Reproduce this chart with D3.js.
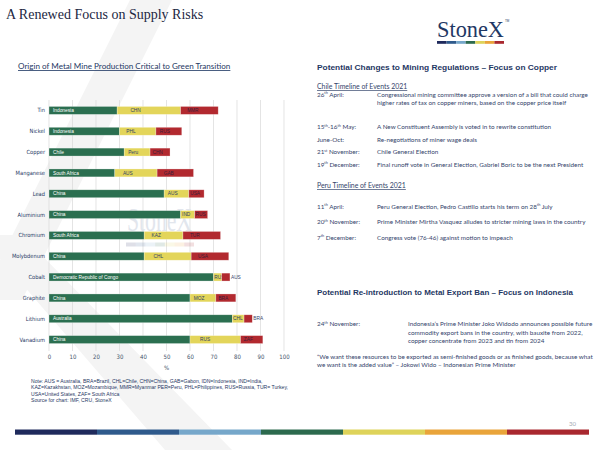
<!DOCTYPE html>
<html>
<head>
<meta charset="utf-8">
<script src="https://cdn.jsdelivr.net/npm/d3@7"></script>
<style>
  body { margin: 0; background: #fff; }
  text { font-family: "Liberation Sans", Arial, sans-serif; }
  text.cal { font-family: Lato, "Open Sans", sans-serif; }
  text.narrow { font-family: "Liberation Sans Narrow", "DejaVu Sans Condensed", sans-serif; }
  text.serif { font-family: "Liberation Serif", "DejaVu Serif", "Times New Roman", serif; }
</style>
</head>
<body>
<div class="canvas"></div>
<script>
/**
 * Data
 */
const metals = ["Tin", "Nickel", "Copper", "Manganese", "Lead", "Aluminium", "Chromium",
    "Molybdenum", "Cobalt", "Graphite", "Lithium", "Vanadium"]
const firstCountry = ["Indonesia", "Indonesia", "Chile", "South Africa", "China", "China",
    "South Africa", "China", "Democratic Republic of Congo", "China", "Australia", "China"]
const firstShare = [29, 30, 32, 28, 49, 56, 40.5, 40.5, 70, 60, 78, 60]
const secondCountry = ["CHN", "PHL", "Peru", "AUS", "AUS", "IND", "KAZ", "CHL", "RUS", "MOZ", "CHL", "RUS"]
const secondShare = [27, 15.5, 11, 18, 10.5, 6, 16.5, 20, 3.5, 11, 5, 21.5]
const thirdCountry = ["MMR", "RUS", "CHN", "GAB", "USA", "RUS", "TUR", "USA", "AUS", "BRA", "BRA", "ZAF"]
const thirdShare = [16, 11, 8.5, 15.5, 6.5, 5.5, 16, 16, 3.5, 8.5, 3.5, 9.5]
const xTicks = [0, 10, 20, 30, 40, 50, 60, 70, 80, 90, 100]

const segColors = ["#2b6f50", "#e3d55a", "#b2292f"]
const segText = ["#ffffff", "#2f3f66", "#3a1f3a"]
const stripeColors = ["#1f2a5c", "#2f5a8c", "#76a7ca", "#2c6a4e", "#ded35a", "#e9a43a", "#a9282f"]

const chileDates = [["26", "th", " April:"], ["15", "th", "-16", "th", " May:"], ["June-Oct:"],
    ["21", "st", " November:"], ["19", "th", " December:"]]
const chileEvents = [
    ["Congressional mining committee approve a version of a bill that could charge",
     "higher rates of tax on copper miners, based on the copper price itself"],
    ["A New Constituent Assembly is voted  in to rewrite constitution"],
    ["Re-negotiations of miner wage deals"],
    ["Chile General Election"],
    ["Final runoff vote  in General Election, Gabriel Boric to be the  next President"]]
const peruDates = [["11", "th", " April:"], ["20", "th", " November:"], ["7", "th", " December:"]]
const peruEvents = [
    ["Peru General Election, Pedro Castillo starts his term on 28", "th", " July"],
    "Prime Minister Mirtha Vasquez alludes to stricter mining laws in the country",
    "Congress vote  (76-46) against motion to impeach"]
const indoLines = ["Indonesia\u2019s Prime Minister Joko Widodo announces possible future",
    "commodity export bans in the country, with bauxite from 2022,",
    "copper concentrate from 2023 and tin from 2024"]
const quoteLines = ["\u201CWe want these resources to be exported  as semi-finished goods or as finished goods, because what",
    "we want  is the added value\u201D \u2013 Jokowi Wido \u2013 Indonesian Prime Minister"]
const noteLines = ["Note: AUS = Australia, BRA=Brazil, CHL=Chile, CHN=China, GAB=Gabon, IDN=Indonesia, IND=India,",
    "KAZ=Kazakhstan, MOZ=Mozambique, MMR=Myanmar PER=Peru, PHL=Philippines, RUS=Russia, TUR= Turkey,",
    "USA=United States, ZAF= South Africa",
    "Source for chart: IMF, CRU, StoneX"]

const navy = "#1f3864"
const bodyText = "#34446b"

const svg = d3.select(".canvas")
    .append("svg")
    .attr("width", 600)
    .attr("height", 450)

svg.append("rect").attr("width", 600).attr("height", 450).attr("fill", "#fff")

// faint chevron watermark behind everything
svg.append("polygon")
    .attr("points", "130,0 172,0 22,300 -20,300")
    .attr("fill", "#f4f4f4")
svg.append("polygon")
    .attr("points", "-20,235 22,235 232,450 165,450")
    .attr("fill", "#f4f4f4")

/**
 * Header
 */
svg.append("text")
    .attr("class", "serif")
    .attr("x", 6).attr("y", 19)
    .attr("font-size", 14)
    .attr("fill", "#1c2742")
    .text("A Renewed Focus on Supply Risks")

svg.append("text")
    .attr("class", "serif")
    .attr("x", 437).attr("y", 36.5)
    .attr("font-size", 23)
    .attr("textLength", 67)
    .attr("lengthAdjust", "spacingAndGlyphs")
    .attr("fill", navy)
    .text("StoneX")
svg.append("text")
    .attr("x", 505).attr("y", 22)
    .attr("font-size", 3)
    .attr("fill", navy)
    .text("TM")

const logoX = d3.scaleBand().domain(d3.range(7)).range([437, 504])
svg.selectAll(".logo-seg")
    .data(stripeColors)
    .enter()
    .append("rect")
    .attr("class", "logo-seg")
    .attr("x", (d, i) => logoX(i))
    .attr("y", 41)
    .attr("width", logoX.bandwidth())
    .attr("height", 2.8)
    .attr("fill", d => d)

/**
 * Chart
 */
svg.append("text")
    .attr("class", "cal")
    .attr("x", 18).attr("y", 69)
    .attr("font-size", 8.1)
    .attr("fill", navy)
    .attr("text-decoration", "underline")
    .text("Origin of Metal Mine Production Critical to Green Transition")

const rows = metals.map((m, i) => ({
    metal: m,
    segs: [
        { name: firstCountry[i], v: firstShare[i] },
        { name: secondCountry[i], v: secondShare[i] },
        { name: thirdCountry[i], v: thirdShare[i] }
    ]
}))
rows.forEach(r => {
    let acc = 0
    r.segs.forEach((s, k) => { s.x0 = acc; acc += s.v; s.x1 = acc; s.k = k })
})

const x = d3.scaleLinear().domain([0, 100]).range([49, 284])
const y = d3.scaleBand().domain(metals).range([100, 350]).paddingInner(0.62).paddingOuter(0.31)

const graph = svg.append("g")

// gridlines
graph.selectAll(".grid")
    .data(xTicks)
    .enter()
    .append("line")
    .attr("class", "grid")
    .attr("x1", d => x(d)).attr("x2", d => x(d))
    .attr("y1", 100).attr("y2", 351)
    .attr("stroke", "#d9d9d9")
    .attr("stroke-width", 0.7)

// faint logo watermark inside the plot, sitting behind the bars
graph.append("text")
    .attr("class", "serif")
    .attr("x", 127).attr("y", 231)
    .attr("font-size", 34)
    .attr("textLength", 65)
    .attr("lengthAdjust", "spacingAndGlyphs")
    .attr("fill", "#e2e6ed")
    .text("StoneX")
const wmX = d3.scaleBand().domain(d3.range(7)).range([126, 194])
graph.selectAll(".wm-seg")
    .data(stripeColors)
    .enter()
    .append("rect")
    .attr("class", "wm-seg")
    .attr("x", (d, i) => wmX(i))
    .attr("y", 242.5)
    .attr("width", wmX.bandwidth())
    .attr("height", 4)
    .attr("fill", d => d)
    .attr("opacity", 0.15)

// axis
const xAxis = d3.axisBottom(x).tickValues(xTicks).tickSize(0).tickPadding(0)
graph.append("g")
    .attr("transform", "translate(0, 355)")
    .call(xAxis)
    .call(g => g.select(".domain").remove())
    .selectAll("text")
        .attr("class", "narrow")
        .attr("font-size", 6)
        .attr("fill", "#44546a")

graph.append("text")
    .attr("class", "narrow")
    .attr("x", x(50)).attr("y", 370)
    .attr("text-anchor", "middle")
    .attr("font-size", 6)
    .attr("fill", "#44546a")
    .text("%")

// category labels
graph.selectAll(".cat")
    .data(metals)
    .enter()
    .append("text")
    .attr("class", "narrow")
    .attr("x", 45)
    .attr("y", d => y(d) + y.bandwidth() / 2)
    .attr("dy", "0.35em")
    .attr("text-anchor", "end")
    .attr("font-size", 5.7)
    .attr("fill", navy)
    .text(d => d)

// bars
const rowG = graph.selectAll(".row")
    .data(rows)
    .enter()
    .append("g")
    .attr("class", "row")
    .attr("transform", d => `translate(0, ${y(d.metal)})`)

const segG = rowG.selectAll(".seg")
    .data(d => d.segs)
    .enter()
    .append("g")
    .attr("class", "seg")

segG.append("rect")
    .attr("x", d => x(d.x0))
    .attr("width", d => x(d.x1) - x(d.x0))
    .attr("height", y.bandwidth())
    .attr("fill", d => segColors[d.k])
    .attr("stroke", "#ffffff")
    .attr("stroke-opacity", 0.45)
    .attr("stroke-width", 0.6)

segG.append("text")
    .attr("y", y.bandwidth() / 2)
    .attr("dy", "0.36em")
    .attr("font-size", 4.8)
    .text(d => d.name)
    .each(function (d) {
        const t = d3.select(this)
        const tw = this.getComputedTextLength()
        const w = x(d.x1) - x(d.x0)
        let px, fill
        if (d.k === 0) {
            px = x(d.x0) + 4; fill = segText[0]
        } else if (d.k === 2 && tw > w - 1) {
            // too narrow: place after the bar
            px = x(d.x1) + 1; fill = bodyText
        } else {
            px = x(d.x0) + Math.max(0.8, (w - tw) / 4); fill = segText[d.k]
        }
        t.attr("x", px).attr("fill", fill)
    })

// footnote
svg.selectAll(".note")
    .data(noteLines)
    .enter()
    .append("text")
    .attr("class", "note")
    .attr("x", 31)
    .attr("y", (d, i) => 383 + i * 6.3)
    .attr("font-size", 5.1)
    .attr("fill", navy)
    .text(d => d)

/**
 * Right column
 */
const heading = (txt, yy, size, len) => svg.append("text")
    .attr("x", 317).attr("y", yy)
    .attr("font-weight", "bold")
    .attr("font-size", size)
    .attr("textLength", len)
    .attr("lengthAdjust", "spacingAndGlyphs")
    .attr("fill", navy)
    .text(txt)

const bodySize = 6.3

const textLine = (xx, yy, content, size = bodySize) => {
    const t = svg.append("text")
        .attr("class", "cal")
        .attr("x", xx).attr("y", yy)
        .attr("font-size", size)
        .attr("fill", bodyText)
    if (Array.isArray(content)) {
        // odd parts are superscripts
        content.forEach((p, i) => {
            const sup = i % 2 === 1
            t.append("tspan")
                .attr("font-size", sup ? size * 0.6 : size)
                .attr("dy", sup ? -size * 0.35 : (i > 0 ? size * 0.35 : 0))
                .text(p)
        })
    } else {
        t.text(content)
    }
    return t
}

heading("Potential Changes to Mining Regulations \u2013 Focus on Copper", 69.5, 7.8, 240)

textLine(317, 89, "Chile Timeline of Events 2021", 6.9).attr("text-decoration", "underline")
const chileY = [96.5, 129, 141.5, 154, 166.5]
chileDates.forEach((d, i) => {
    textLine(317, chileY[i], d)
    chileEvents[i].forEach((line, j) => textLine(377, chileY[i] + j * 8.3, line))
})

textLine(317, 188, "Peru Timeline of Events 2021", 6.9).attr("text-decoration", "underline")
const peruY = [208.5, 224, 239.5]
peruDates.forEach((d, i) => {
    textLine(317, peruY[i], d)
    textLine(377, peruY[i], peruEvents[i])
})

heading("Potential Re-introduction to Metal Export Ban \u2013 Focus on Indonesia", 294.5, 7.4, 256)

textLine(317, 326, ["24", "th", " November:"])
indoLines.forEach((line, j) => textLine(408, 326 + j * 8.6, line))
quoteLines.forEach((line, j) => textLine(317, 358.5 + j * 8.3, line))

/**
 * Footer
 */
svg.append("text")
    .attr("class", "cal")
    .attr("x", 569).attr("y", 426)
    .attr("font-size", 6)
    .attr("fill", "#a3abb4")
    .text("30")

const footX = d3.scaleBand().domain(d3.range(7)).range([15, 589])
svg.selectAll(".foot-seg")
    .data(stripeColors)
    .enter()
    .append("rect")
    .attr("class", "foot-seg")
    .attr("x", (d, i) => footX(i))
    .attr("y", 429.5)
    .attr("width", footX.bandwidth())
    .attr("height", 5.2)
    .attr("fill", d => d)
</script>
</body>
</html>
